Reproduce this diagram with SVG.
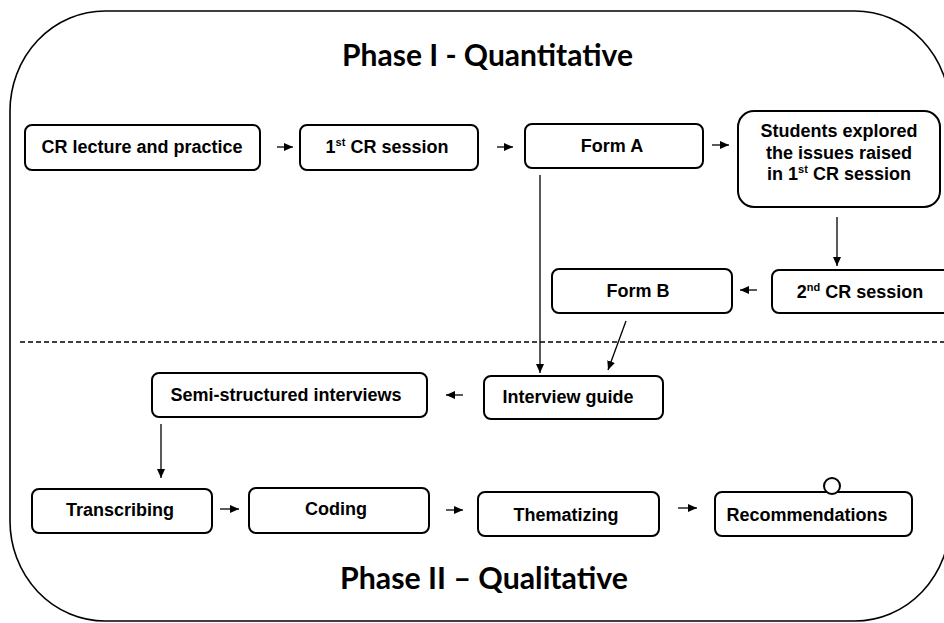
<svg xmlns="http://www.w3.org/2000/svg" width="944" height="623" viewBox="0 0 944 623">
<style>
.box{fill:#fff;stroke:#000;stroke-width:2}
.t{font-family:"Liberation Sans",Arial,sans-serif;font-weight:bold;font-size:18px;fill:#000;text-anchor:middle}
.sup{font-size:11px}
.title{font-family:Lato,"Open Sans",sans-serif;font-weight:bold;font-size:31px;fill:#000}
.c{stroke:#000;stroke-width:1.3;fill:none;marker-end:url(#ah)}
</style>
<defs>
<marker id="ah" markerUnits="userSpaceOnUse" markerWidth="10" markerHeight="9" refX="9" refY="4" orient="auto">
<path d="M0,0 L9,4 L0,8 z" fill="#000"/>
</marker>
</defs>
<rect width="944" height="623" fill="#fff"/>
<rect x="10" y="11" width="940" height="610" rx="95" ry="100" fill="none" stroke="#000" stroke-width="1.6"/>
<text class="title" x="342" y="66" textLength="291" lengthAdjust="spacingAndGlyphs">Phase I - Quantitative</text>
<text class="title" x="340" y="589" textLength="288" lengthAdjust="spacingAndGlyphs">Phase II – Qualitative</text>
<line x1="20" y1="342" x2="944" y2="342" stroke="#000" stroke-width="1.3" stroke-dasharray="5 3"/>
<g id="connectors">
<line class="c" x1="277" y1="147" x2="293" y2="147"/>
<line class="c" x1="497" y1="147" x2="513" y2="147"/>
<line class="c" x1="712" y1="145" x2="729" y2="145"/>
<line class="c" x1="837" y1="217" x2="837" y2="266"/>
<line class="c" x1="757" y1="290" x2="740" y2="290"/>
<line class="c" x1="540" y1="175" x2="540" y2="373"/>
<line class="c" x1="626" y1="321" x2="608" y2="370"/>
<line class="c" x1="463" y1="395" x2="446" y2="395"/>
<line class="c" x1="161" y1="424" x2="161" y2="478"/>
<line class="c" x1="220" y1="509" x2="239" y2="509"/>
<line class="c" x1="446" y1="510" x2="463" y2="510"/>
<line class="c" x1="678" y1="508" x2="697" y2="508"/>
</g>
<g id="n1"><rect class="box" x="25" y="125" width="235" height="45" rx="7"/><text class="t" x="142" y="153">CR lecture and practice</text></g>
<g id="n2"><rect class="box" x="300" y="125" width="178" height="45" rx="7"/><text class="t" x="387" y="153">1<tspan class="sup" dy="-7">st</tspan><tspan dy="7"> CR session</tspan></text></g>
<g id="n3"><rect class="box" x="525" y="124" width="178" height="44" rx="7"/><text class="t" x="612" y="152">Form A</text></g>
<g id="n4"><rect class="box" x="738" y="111" width="202" height="96" rx="16"/>
<text class="t" x="839" y="137">Students explored</text>
<text class="t" x="839" y="159">the issues raised</text>
<text class="t" x="839" y="180">in 1<tspan class="sup" dy="-7">st</tspan><tspan dy="7"> CR session</tspan></text></g>
<g id="n5"><rect class="box" x="772" y="270" width="178" height="43" rx="7"/><text class="t" x="860" y="298">2<tspan class="sup" dy="-7">nd</tspan><tspan dy="7"> CR session</tspan></text></g>
<g id="n6"><rect class="box" x="552" y="269" width="180" height="44" rx="7"/><text class="t" x="638" y="297">Form B</text></g>
<g id="n7"><rect class="box" x="484" y="376" width="179" height="43" rx="7"/><text class="t" x="568" y="403">Interview guide</text></g>
<g id="n8"><rect class="box" x="152" y="373" width="275" height="44" rx="7"/><text class="t" x="286" y="401">Semi-structured interviews</text></g>
<g id="n9"><rect class="box" x="32" y="489" width="180" height="44" rx="7"/><text class="t" x="120" y="516">Transcribing</text></g>
<g id="n10"><rect class="box" x="249" y="488" width="180" height="45" rx="7"/><text class="t" x="336" y="515">Coding</text></g>
<g id="n11"><rect class="box" x="478" y="492" width="181" height="44" rx="7"/><text class="t" x="566" y="521">Thematizing</text></g>
<g id="n12"><rect class="box" x="715" y="492" width="197" height="44" rx="7"/><circle cx="832" cy="486" r="8" fill="#fff" stroke="#000" stroke-width="2"/><text class="t" x="807" y="521">Recommendations</text></g>
</svg>
